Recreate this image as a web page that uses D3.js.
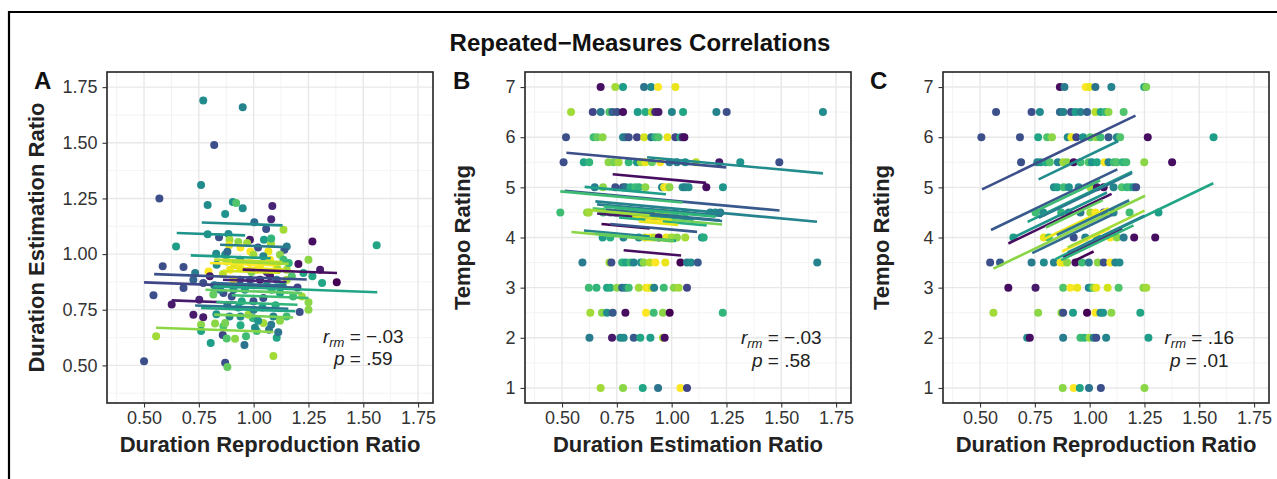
<!DOCTYPE html>
<html>
<head>
<meta charset="utf-8">
<script src="https://cdn.jsdelivr.net/npm/d3@7"></script>
<style>
  body { margin: 0; background: #fff; }
  svg { display: block; font-family: "Liberation Sans", Arial, sans-serif; }
</style>
</head>
<body>
<div id="chart"></div>
<script>
// Repeated-measures correlations: three panels, points coloured by participant (viridis),
// one fitted line per participant with a common within-subject slope.

// ---- data: [x, y, participant] ----
const durEstVsRep = [
  [0.77,1.69,15],[0.95,1.66,14],[0.82,1.49,8],[0.76,1.31,15],[0.57,1.25,8],[0.79,1.22,15],[0.905,1.234,16],
  [0.92,1.23,22],[0.95,1.206,15],[0.87,1.18,16],[1.085,1.216,4],[1.08,1.157,4],[1.003,1.143,11],[1.057,1.113,8],
  [1.136,1.109,26],[0.79,1.089,16],[0.885,1.09,15],[0.842,1.076,8],[0.983,1.064,3],[0.93,1.054,25],[0.89,1.064,26],
  [1.047,1.064,17],[1.079,1.046,26],[0.646,1.034,17],[1.268,1.057,2],[1.561,1.04,18],[0.888,1.04,29],[0.94,1.03,30],
  [0.985,1.012,30],[1.067,1.012,29],[1.151,1.034,13],[1.14,1.02,9],[0.829,1.001,15],[1.25,0.975,25],[1.204,0.955,2],
  [1.303,0.93,3],[1.379,0.873,1],[1.312,0.87,18],[1.227,0.915,18],[1.268,0.90,18],[0.585,0.945,8],[0.68,0.942,8],
  [0.733,0.915,13],[0.794,0.922,30],[0.80,0.90,3],[0.725,0.885,10],[0.68,0.848,8],[0.816,0.818,23],[0.543,0.815,8],
  [0.626,0.773,3],[0.752,0.795,4],[0.725,0.728,3],[0.77,0.716,3],[0.76,0.683,25],[0.76,0.654,18],[0.824,0.688,25],
  [0.804,0.60,17],[0.859,0.637,7],[0.877,0.621,22],[0.915,0.62,25],[0.958,0.592,12],[0.965,0.631,21],[1.014,0.654,21],
  [1.105,0.624,18],[1.112,0.649,12],[1.09,0.542,26],[0.87,0.512,8],[0.88,0.493,23],[0.50,0.518,8],[0.555,0.631,26],
  [1.25,0.784,25],[1.25,0.75,25],[1.21,0.74,8],[1.15,0.72,21],[1.09,0.72,14],[1.08,0.683,13],[1.044,0.69,26],
  [0.996,0.713,20],[0.976,0.728,26],[0.94,0.72,15],[0.89,0.72,14],[0.862,0.676,22],[1.006,0.669,15],[0.946,0.788,18],
  [0.999,0.788,8],[1.044,0.803,8],[1.12,0.825,17],[1.151,0.885,26],[1.18,0.81,21],[1.22,0.81,26],[1.082,0.84,20],
  [0.908,0.84,14],[0.862,0.825,8],[0.847,0.84,13],[0.938,0.885,8],[0.984,0.885,8],[1.029,0.885,2],[1.075,0.90,3],
  [1.105,0.885,14],[0.908,0.885,30],[0.892,0.93,30],[0.984,0.96,30],[1.03,0.952,29],[1.075,0.975,30],[1.105,0.948,29],
  [0.877,0.967,25],[0.938,0.975,14],[0.831,0.952,15],[0.87,0.997,15],[0.999,0.997,26],[1.044,0.99,14],[1.12,0.997,25],
  [1.136,0.975,21],[0.938,0.937,29],[1.014,0.93,30],[1.151,0.93,26],[1.174,0.90,22],[1.20,0.85,7],[0.97,1.05,26],
  [1.02,1.03,8],[1.06,0.92,4],[0.96,0.84,16],[1.04,0.76,17],[1.10,0.77,19],[1.00,0.75,13],[0.93,0.76,17],
  [0.88,0.77,12],[0.83,0.73,16],[0.87,0.69,24],[0.94,0.68,19],[1.02,0.70,16],[1.12,0.70,25],[1.07,0.66,12],
  [0.90,0.81,8],[0.82,0.86,13],[0.77,0.87,8],[0.86,0.91,27],[0.91,0.96,28],[0.99,0.92,24],[1.06,0.86,18],
  [1.13,0.86,19],[1.16,0.96,20],[0.88,1.01,11],[1.08,1.07,20],[1.11,0.93,26]
];

const tempoVsEst = [
  [0.676,7,2],[0.743,7,26],[0.778,7,17],[0.874,7,12],[0.906,7,15],[0.938,7,30],[1.017,7,29],
  [0.541,6.5,26],[0.640,6.5,7],[0.676,6.5,13],[0.716,6.5,22],[0.730,6.5,10],[0.751,6.5,8],[0.778,6.5,2],[0.845,6.5,17],
  [0.880,6.5,19],[0.910,6.5,27],[0.925,6.5,4],[0.940,6.5,3],[1.001,6.5,14],[1.052,6.5,18],[1.204,6.5,14],[1.251,6.5,8],[1.690,6.5,15],
  [0.518,6,8],[0.644,6,21],[0.660,6,23],[0.685,6,25],[0.778,6,14],[0.790,6,12],[0.804,6,8],[0.842,6,7],[0.875,6,28],
  [0.907,6,12],[0.925,6,20],[0.940,6,22],[0.981,6,29],[1.017,6,7],[1.040,6,19],[1.050,6,4],[1.058,6,2],
  [0.507,5.5,8],[0.599,5.5,18],[0.624,5.5,20],[0.712,5.5,25],[0.735,5.5,24],[0.758,5.5,26],[0.804,5.5,20],[0.842,5.5,16],
  [0.860,5.5,26],[0.880,5.5,29],[0.910,5.5,23],[0.948,5.5,30],[0.990,5.5,13],[1.024,5.5,14],[1.062,5.5,16],[1.111,5.5,27],
  [1.217,5.5,3],[1.313,5.5,16],[1.491,5.5,8],
  [0.649,5,13],[0.687,5,25],[0.743,5,8],[0.778,5,9],[0.790,5,12],[0.812,5,19],[0.834,5,21],[0.850,5,20],[0.880,5,25],
  [0.956,5,14],[0.966,5,29],[0.980,5,30],[0.990,5,25],[1.050,5,15],[1.062,5,14],[1.077,5,15],[1.158,5,2],[1.234,5,16],
  [0.492,4.5,21],[0.614,4.5,25],[0.622,4.5,26],[0.687,4.5,21],[0.720,4.5,14],[0.743,4.5,16],[0.774,4.5,19],[0.804,4.5,23],
  [0.834,4.5,17],[0.857,4.5,22],[0.880,4.5,13],[0.910,4.5,3],[0.941,4.5,30],[0.971,4.5,28],[1.017,4.5,18],[1.062,4.5,21],
  [1.176,4.5,14],[1.199,4.5,15],[1.222,4.5,13],
  [0.685,4,17],[0.720,4,19],[0.780,4,14],[0.850,4,15],[0.880,4,28],[0.903,4,30],[0.920,4,27],[0.941,4,2],[0.976,4,29],
  [1.000,4,26],[1.024,4,25],[1.062,4,26],[1.138,4,15],[1.146,4,19],
  [0.593,3.5,13],[0.716,3.5,26],[0.725,3.5,8],[0.774,3.5,20],[0.790,3.5,18],[0.812,3.5,21],[0.827,3.5,14],[0.860,3.5,16],
  [0.872,3.5,25],[0.900,3.5,27],[0.926,3.5,30],[0.971,3.5,29],[1.040,3.5,1],[1.070,3.5,14],[1.088,3.5,15],[1.119,3.5,9],[1.664,3.5,14],
  [0.622,3,21],[0.657,3,20],[0.705,3,18],[0.720,3,19],[0.751,3,25],[0.774,3,11],[0.790,3,14],[0.804,3,21],[0.850,3,26],
  [0.884,3,29],[0.895,3,30],[0.910,3,28],[0.920,3,14],[0.964,3,21],[1.010,3,25],[1.032,3,26],[1.070,3,7],
  [0.629,2.5,26],[0.682,2.5,25],[0.705,2.5,15],[0.731,2.5,9],[0.789,2.5,2],[0.883,2.5,30],[0.918,2.5,21],[0.960,2.5,25],
  [0.991,2.5,1],[1.233,2.5,20],
  [0.625,2,13],[0.728,2,3],[0.766,2,14],[0.781,2,15],[0.827,2,9],[0.857,2,18],[0.903,2,17],[0.960,2,26],[0.968,2,2],
  [0.676,1,26],[0.778,1,25],[0.868,1,18],[0.938,1,12],[1.040,1,30],[1.070,1,7]
];

const tempoVsRep = [
  [0.864,7,2],[0.885,7,13],[0.982,7,30],[1.0,7,29],[1.026,7,12],[1.099,7,14],[1.249,7,18],[1.258,7,24],
  [0.573,6.5,8],[0.735,6.5,8],[0.773,6.5,15],[0.864,6.5,11],[0.880,6.5,14],[0.915,6.5,8],[0.935,6.5,17],[0.958,6.5,14],
  [0.988,6.5,10],[1.026,6.5,27],[1.050,6.5,18],[1.071,6.5,20],[1.086,6.5,25],[1.155,6.5,22],
  [0.506,6,8],[0.682,6,8],[0.765,6,18],[0.806,6,22],[0.828,6,25],[0.900,6,15],[0.917,6,29],[0.939,6,7],[0.970,6,16],
  [1.003,6,22],[1.030,6,25],[1.049,6,21],[1.086,6,9],[1.124,6,14],[1.139,6,22],[1.265,6,2],[1.565,6,17],
  [0.687,5.5,8],[0.761,5.5,14],[0.776,5.5,16],[0.800,5.5,19],[0.818,5.5,22],[0.855,5.5,14],[0.880,5.5,26],[0.897,5.5,25],
  [0.927,5.5,2],[0.958,5.5,21],[0.995,5.5,22],[1.010,5.5,16],[1.033,5.5,18],[1.068,5.5,30],[1.086,5.5,14],[1.110,5.5,21],
  [1.124,5.5,22],[1.150,5.5,20],[1.167,5.5,21],[1.249,5.5,25],[1.376,5.5,2],
  [0.837,5,15],[0.852,5,17],[0.882,5,21],[0.905,5,16],[0.950,5,14],[1.003,5,26],[1.033,5,3],[1.064,5,2],[1.109,5,14],
  [1.147,5,22],[1.170,5,20],[1.185,5,21],[1.200,5,16],[1.212,5,8],
  [0.753,4.5,21],[0.788,4.5,15],[0.870,4.5,20],[0.905,4.5,14],[0.958,4.5,13],[1.003,4.5,26],[1.026,4.5,30],[1.064,4.5,8],
  [1.109,4.5,14],[1.182,4.5,21],[1.314,4.5,17],
  [0.652,4,17],[0.791,4,29],[0.814,4,21],[0.927,4,8],[0.980,4,14],[1.033,4,15],[1.094,4,30],[1.124,4,25],[1.155,4,13],
  [1.203,4,2],[1.299,4,2],
  [0.546,3.5,8],[0.591,3.5,9],[0.735,3.5,13],[0.791,3.5,15],[0.837,3.5,14],[0.867,3.5,30],[0.880,3.5,29],[0.897,3.5,25],
  [0.935,3.5,2],[0.965,3.5,21],[0.996,3.5,13],[1.037,3.5,25],[1.064,3.5,8],[1.094,3.5,30],[1.117,3.5,14],[1.136,3.5,15],
  [0.629,3,2],[0.753,3,3],[0.879,3,22],[0.912,3,30],[0.943,3,29],[0.996,3,14],[1.008,3,17],[1.018,3,25],[1.030,3,29],
  [1.082,3,28],[1.132,3,22],[1.245,3,25],[1.258,3,26],
  [0.561,2.5,26],[0.765,2.5,25],[0.871,2.5,25],[0.879,2.5,8],[0.924,2.5,17],[0.988,2.5,1],[1.026,2.5,30],[1.049,2.5,14],
  [1.061,2.5,16],[1.099,2.5,25],[1.231,2.5,18],
  [0.715,2,15],[0.727,2,2],[0.879,2,13],[0.958,2,21],[0.976,2,20],[1.0,2,26],[1.018,2,14],[1.030,2,8],[1.075,2,14],[1.268,2,17],
  [0.877,1,25],[0.927,1,30],[0.955,1,18],[0.997,1,12],[1.051,1,8],[1.250,1,25]
];

// ---- per-participant fits: [participant, xStart, xEnd, y at xStart]; common slope per panel ----
const slopeA = -0.035;
const fitA = [
  [15,0.763,1.132,1.142],[16,0.649,0.961,1.095],[13,0.847,1.158,1.042],[17,0.713,1.078,0.994],[27,0.820,1.130,0.975],
  [30,0.800,1.090,0.960],[29,0.880,1.140,0.940],[26,0.900,1.160,0.965],[28,0.860,1.120,0.925],[2,0.950,1.380,0.930],
  [8,0.546,1.242,0.910],[7,0.500,1.210,0.873],[4,0.860,1.150,0.885],[18,0.816,1.564,0.855],[23,0.780,1.220,0.840],
  [21,0.900,1.250,0.815],[3,0.626,0.923,0.792],[12,0.733,1.158,0.769],[18,0.760,1.190,0.758],[20,0.830,1.200,0.785],
  [24,0.820,1.180,0.728],[25,0.555,1.090,0.669],[11,0.820,1.150,0.870]
];
const slopeB = -0.40;
const fitB = [
  [8,0.520,1.249,5.69],[15,0.888,1.690,5.60],[2,0.731,1.157,5.26],[17,0.603,0.974,5.01],[9,0.512,1.492,4.93],
  [21,0.492,1.050,4.92],[14,0.652,1.663,4.72],[13,0.660,1.230,4.66],[20,0.690,1.200,4.62],[22,0.640,1.050,4.58],
  [10,0.700,1.220,4.55],[16,0.690,1.100,4.52],[24,0.700,1.230,4.47],[3,0.660,0.960,4.48],[12,0.800,1.230,4.50],
  [28,0.820,1.000,4.42],[19,0.760,1.160,4.40],[29,0.850,1.030,4.32],[1,0.680,0.900,4.27],[9,0.720,1.116,4.27],
  [14,0.600,0.900,4.14],[25,0.543,1.009,4.11],[18,0.700,1.020,4.06],[23,0.650,1.010,4.08],[2,0.781,1.043,3.745],
  [30,0.880,0.960,4.35],[26,0.620,0.900,4.55]
];
const slopeC = 2.1;
const fitC = [
  [8,0.509,1.209,4.96],[15,0.767,1.131,5.16],[9,0.550,1.126,4.15],[17,0.717,1.194,4.31],[18,0.844,1.564,3.57],
  [25,0.561,1.253,3.38],[2,0.629,1.100,3.88],[30,0.874,1.094,3.72],[29,0.784,1.086,3.95],[21,0.738,1.048,4.49],
  [13,0.768,1.193,4.39],[16,0.647,1.079,3.99],[11,0.738,1.102,3.69],[1,0.927,1.018,3.53],[23,0.800,1.060,4.20],
  [26,0.900,1.250,3.80],[12,0.850,1.180,4.05],[4,0.880,1.150,3.60],[20,0.870,1.200,3.55],[14,0.900,1.250,3.70]
];

// ---- ticks / labels ----
const ratioTicks = [0.50, 0.75, 1.00, 1.25, 1.50, 1.75];
const ratioMinor = [0.375, 0.625, 0.875, 1.125, 1.375, 1.625];
const tempoTicks = [1, 2, 3, 4, 5, 6, 7];
const tempoMinor = [1.5, 2.5, 3.5, 4.5, 5.5, 6.5];
const nParticipants = 30;

const W = 1277, H = 479;
const svg = d3.select('#chart').append('svg').attr('width', W).attr('height', H);
svg.append('rect').attr('width', W).attr('height', H).attr('fill', '#fff');

// outer frame (top and left edge only)
svg.append('path').attr('d', `M9,${H} V12 H${W}`).attr('fill', 'none').attr('stroke', '#000').attr('stroke-width', 2.2);

svg.append('text')
  .attr('x', 640).attr('y', 51)
  .attr('text-anchor', 'middle')
  .attr('font-size', 24).attr('font-weight', 700).attr('fill', '#111')
  .text('Repeated\u2212Measures Correlations');

const color = s => d3.interpolateViridis((s - 1) / (nParticipants - 1));

const panels = [
  { tag: 'A', data: durEstVsRep, fits: fitA, slope: slopeA, left: 107, right: 433,
    yDomain: [0.331, 1.818], yTicks: ratioTicks, yMinor: ratioMinor, yFmt: d3.format('.2f'),
    xTitle: 'Duration Reproduction Ratio', yTitle: 'Duration Estimation Ratio',
    tagX: 34, yTitleX: 44, r: '\u2212.03', p: '.59', annY: [0.60, 0.502] },
  { tag: 'B', data: tempoVsEst, fits: fitB, slope: slopeB, left: 525, right: 851,
    yDomain: [0.7, 7.3], yTicks: tempoTicks, yMinor: tempoMinor, yFmt: d3.format('d'),
    xTitle: 'Duration Estimation Ratio', yTitle: 'Tempo Rating',
    tagX: 453, yTitleX: 470, r: '\u2212.03', p: '.58', annY: [1.88, 1.41] },
  { tag: 'C', data: tempoVsRep, fits: fitC, slope: slopeC, left: 943, right: 1269,
    yDomain: [0.7, 7.3], yTicks: tempoTicks, yMinor: tempoMinor, yFmt: d3.format('d'),
    xTitle: 'Duration Reproduction Ratio', yTitle: 'Tempo Rating',
    tagX: 870, yTitleX: 889, r: '.16', p: '.01', annY: [1.88, 1.41] }
];

const plotTop = 72, plotBottom = 403;

panels.forEach(pn => {
  const x = d3.scaleLinear().domain([0.331, 1.818]).range([pn.left, pn.right]);
  const y = d3.scaleLinear().domain(pn.yDomain).range([plotBottom, plotTop]);
  const g = svg.append('g');

  // grid
  const grid = g.append('g');
  grid.selectAll('line.xmin').data(ratioMinor).join('line')
    .attr('x1', d => x(d)).attr('x2', d => x(d)).attr('y1', plotTop).attr('y2', plotBottom)
    .attr('stroke', '#f0f0f0').attr('stroke-width', 0.8);
  grid.selectAll('line.ymin').data(pn.yMinor).join('line')
    .attr('x1', pn.left).attr('x2', pn.right).attr('y1', d => y(d)).attr('y2', d => y(d))
    .attr('stroke', '#f0f0f0').attr('stroke-width', 0.8);
  grid.selectAll('line.xmaj').data(ratioTicks).join('line')
    .attr('x1', d => x(d)).attr('x2', d => x(d)).attr('y1', plotTop).attr('y2', plotBottom)
    .attr('stroke', '#e8e8e8').attr('stroke-width', 1.4);
  grid.selectAll('line.ymaj').data(pn.yTicks).join('line')
    .attr('x1', pn.left).attr('x2', pn.right).attr('y1', d => y(d)).attr('y2', d => y(d))
    .attr('stroke', '#e8e8e8').attr('stroke-width', 1.4);

  // points
  g.append('g').selectAll('circle').data(pn.data).join('circle')
    .attr('cx', d => x(d[0])).attr('cy', d => y(d[1])).attr('r', 4)
    .attr('fill', d => color(d[2]));

  // participant fits
  g.append('g').selectAll('line').data(pn.fits).join('line')
    .attr('x1', d => x(d[1])).attr('y1', d => y(d[3]))
    .attr('x2', d => x(d[2])).attr('y2', d => y(d[3] + pn.slope * (d[2] - d[1])))
    .attr('stroke', d => color(d[0])).attr('stroke-width', 2.6);

  // annotation
  const ann = g.append('g').attr('font-size', 19).attr('fill', '#222').attr('text-anchor', 'middle');
  const t1 = ann.append('text').attr('x', x(1.5)).attr('y', y(pn.annY[0]));
  t1.append('tspan').attr('font-style', 'italic').text('r');
  t1.append('tspan').attr('font-style', 'italic').attr('font-size', 13).attr('dy', 4).text('rm');
  t1.append('tspan').attr('dy', -4).text(' = ' + pn.r);
  const t2 = ann.append('text').attr('x', x(1.5)).attr('y', y(pn.annY[1]));
  t2.append('tspan').attr('font-style', 'italic').text('p');
  t2.append('tspan').text(' = ' + pn.p);

  // panel border
  g.append('rect').attr('x', pn.left).attr('y', plotTop)
    .attr('width', pn.right - pn.left).attr('height', plotBottom - plotTop)
    .attr('fill', 'none').attr('stroke', '#222').attr('stroke-width', 1.6);

  // axes
  const xa = g.append('g').attr('transform', `translate(0,${plotBottom})`)
    .call(d3.axisBottom(x).tickValues(ratioTicks).tickFormat(d3.format('.2f')).tickSize(4.5).tickPadding(4));
  const ya = g.append('g').attr('transform', `translate(${pn.left},0)`)
    .call(d3.axisLeft(y).tickValues(pn.yTicks).tickFormat(pn.yFmt).tickSize(4.5).tickPadding(5));
  [xa, ya].forEach(a => {
    a.select('.domain').remove();
    a.selectAll('.tick line').attr('stroke', '#333').attr('stroke-width', 1.1);
    a.selectAll('.tick text').attr('fill', '#333').attr('font-size', 18)
      .attr('font-family', '"Liberation Sans", Arial, sans-serif');
  });

  // titles
  g.append('text')
    .attr('x', (pn.left + pn.right) / 2).attr('y', 452)
    .attr('text-anchor', 'middle').attr('font-size', 22).attr('font-weight', 700).attr('fill', '#222')
    .text(pn.xTitle);
  g.append('text')
    .attr('transform', `translate(${pn.yTitleX},${(plotTop + plotBottom) / 2}) rotate(-90)`)
    .attr('text-anchor', 'middle').attr('font-size', 22).attr('font-weight', 700).attr('fill', '#222')
    .text(pn.yTitle);
  g.append('text')
    .attr('x', pn.tagX).attr('y', 89)
    .attr('font-size', 24).attr('font-weight', 700).attr('fill', '#111')
    .text(pn.tag);
});
</script>
</body>
</html>
